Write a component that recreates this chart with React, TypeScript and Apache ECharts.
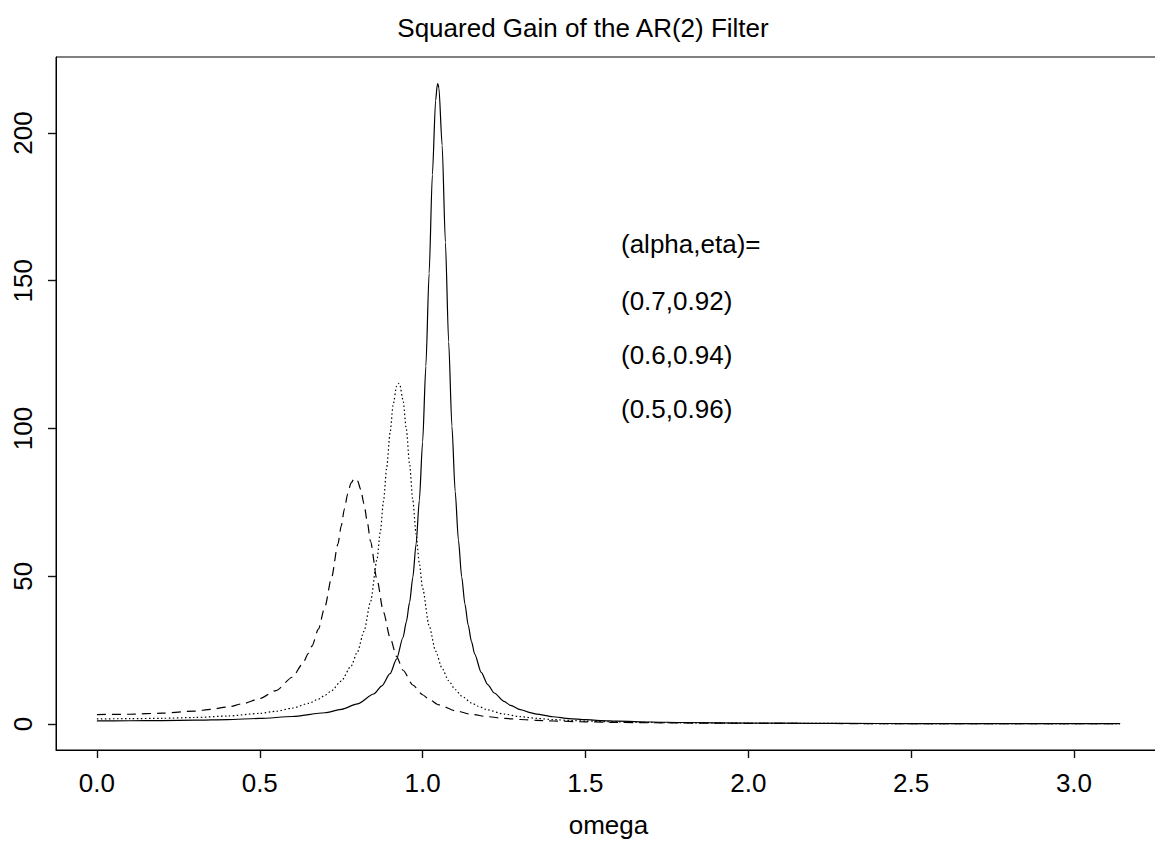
import React, { useEffect, useRef } from "react";
import * as echarts from "echarts";

const TITLE = "Squared Gain of the AR(2) Filter";
const X_NAME = "omega";
const X_TICKS = [0, 0.5, 1, 1.5, 2, 2.5, 3];
const Y_TICKS = [0, 50, 100, 150, 200];
const NOTE_LINES = ["(alpha,eta)=", "(0.7,0.92)", "(0.6,0.94)", "(0.5,0.96)"];

// solid curve
const omegaSolid = [0, 0.1, 0.2, 0.3, 0.4, 0.5, 0.6, 0.7, 0.75, 0.8, 0.85, 0.875, 0.9, 0.92, 0.94, 0.95, 0.96, 0.97, 0.98, 0.99, 1.0, 1.01, 1.02, 1.03, 1.04, 1.045, 1.0467, 1.05, 1.06, 1.07, 1.08, 1.09, 1.1, 1.11, 1.12, 1.13, 1.14, 1.15, 1.16, 1.18, 1.2, 1.22, 1.25, 1.27, 1.3, 1.33, 1.35, 1.4, 1.45, 1.5, 1.55, 1.6, 1.7, 1.8, 2.0, 2.2, 2.4, 2.6, 2.8, 3.0, 3.1416];
const gainSolid = [1.08, 1.10, 1.17, 1.30, 1.52, 1.89, 2.54, 3.81, 4.96, 6.82, 10.16, 12.91, 17.02, 21.94, 29.36, 34.53, 41.13, 49.67, 60.88, 75.73, 95.43, 121.07, 152.52, 185.89, 211.01, 216.30, 216.68, 215.29, 195.84, 163.05, 129.29, 100.81, 78.76, 62.21, 49.84, 40.54, 33.44, 27.96, 23.65, 17.47, 13.36, 10.50, 7.64, 6.32, 4.89, 3.88, 3.37, 2.46, 1.86, 1.46, 1.17, 0.96, 0.68, 0.51, 0.32, 0.23, 0.18, 0.15, 0.13, 0.12, 0.12];

// dotted curve
const omegaDotted = [0, 0.1, 0.2, 0.3, 0.4, 0.5, 0.55, 0.6, 0.65, 0.68, 0.7, 0.72, 0.75, 0.78, 0.8, 0.82, 0.84, 0.86, 0.87, 0.88, 0.89, 0.9, 0.91, 0.92, 0.9258, 0.93, 0.94, 0.95, 0.96, 0.97, 0.98, 0.99, 1.0, 1.02, 1.04, 1.06, 1.08, 1.1, 1.12, 1.15, 1.17, 1.2, 1.25, 1.3, 1.35, 1.4, 1.45, 1.5, 1.6, 1.7, 1.8, 2.0, 2.2, 2.4, 2.6, 2.8, 3.0, 3.1416];
const gainDotted = [1.75, 1.80, 1.94, 2.21, 2.70, 3.59, 4.31, 5.37, 6.99, 8.43, 9.67, 11.25, 14.52, 19.51, 24.43, 31.35, 41.30, 55.66, 64.88, 75.46, 87.00, 98.51, 108.31, 114.30, 115.31, 114.80, 109.55, 99.88, 87.94, 75.67, 64.29, 54.35, 45.96, 33.27, 24.68, 18.79, 14.65, 11.68, 9.48, 7.15, 6.02, 4.76, 3.36, 2.49, 1.91, 1.50, 1.21, 1.00, 0.71, 0.53, 0.41, 0.27, 0.20, 0.16, 0.13, 0.12, 0.11, 0.11];

// dashed curve
const omegaDashed = [0, 0.1, 0.2, 0.3, 0.35, 0.4, 0.45, 0.5, 0.55, 0.6, 0.63, 0.65, 0.66, 0.68, 0.7, 0.72, 0.74, 0.75, 0.76, 0.77, 0.78, 0.79, 0.792, 0.8, 0.81, 0.82, 0.83, 0.84, 0.86, 0.88, 0.9, 0.92, 0.94, 0.97, 1.0, 1.02, 1.05, 1.1, 1.15, 1.2, 1.25, 1.3, 1.35, 1.4, 1.5, 1.6, 1.7, 1.8, 2.0, 2.2, 2.4, 2.6, 2.8, 3.0, 3.1416];
const gainDashed = [3.21, 3.31, 3.66, 4.38, 4.95, 5.75, 6.91, 8.63, 11.33, 15.83, 20.09, 23.97, 26.33, 32.11, 39.66, 49.30, 60.88, 66.99, 72.84, 77.88, 81.48, 83.08, 83.13, 82.36, 79.39, 74.55, 68.49, 61.84, 48.80, 37.79, 29.29, 22.92, 18.19, 13.21, 9.90, 8.29, 6.49, 4.51, 3.28, 2.48, 1.93, 1.53, 1.25, 1.03, 0.73, 0.55, 0.43, 0.34, 0.24, 0.18, 0.14, 0.12, 0.11, 0.10, 0.10];

const FONT = '"Liberation Sans", Arial, Helvetica, sans-serif';

function pairs(xs: number[], ys: number[]) {
  return xs.map((x, i) => [x, ys[i]]);
}

export default function App() {
  const ref = useRef<HTMLDivElement>(null);

  useEffect(() => {
    if (!ref.current) return;
    const chart = echarts.init(ref.current, undefined, { renderer: "svg" });
    const noteY = [244, 301, 355, 409];
    const lineBase = {
      type: "line",
      showSymbol: false,
      symbol: "none",
      smooth: 0.25,
      smoothMonotone: "x",
    };
    chart.setOption({
      animation: false,
      title: {
        text: TITLE,
        left: 578,
        top: 10,
        textAlign: "center",
        textStyle: { fontFamily: FONT, fontSize: 26, fontWeight: "normal", color: "#000" },
      },
      grid: {
        left: 56,
        top: 57,
        width: 1105,
        height: 693,
        show: true,
        borderColor: "#000",
        borderWidth: 1,
      },
      xAxis: {
        type: "value",
        min: -0.12566,
        max: 3.26726,
        name: X_NAME,
        nameLocation: "middle",
        nameGap: 62,
        nameTextStyle: { fontFamily: FONT, fontSize: 26, color: "#000" },
        axisLine: { show: true, onZero: false, lineStyle: { color: "#000", width: 1 } },
        splitLine: { show: false },
        axisTick: {
          show: true,
          length: 8,
          customValues: X_TICKS,
          lineStyle: { color: "#111", width: 1.4 },
        },
        axisLabel: {
          customValues: X_TICKS,
          margin: 20,
          fontFamily: FONT,
          fontSize: 26,
          color: "#000",
          formatter: (v: number) => v.toFixed(1),
        },
      },
      yAxis: {
        type: "value",
        min: -8.79,
        max: 225.7,
        axisLine: { show: true, onZero: false, lineStyle: { color: "#000", width: 1 } },
        splitLine: { show: false },
        axisTick: {
          show: true,
          length: 8,
          customValues: Y_TICKS,
          lineStyle: { color: "#111", width: 1.4 },
        },
        axisLabel: {
          customValues: Y_TICKS,
          rotate: 90,
          margin: 20,
          fontFamily: FONT,
          fontSize: 26,
          color: "#000",
          formatter: (v: number) => String(Math.round(v)),
        },
      },
      graphic: NOTE_LINES.map((t, i) => ({
        type: "text",
        x: 621,
        y: noteY[i],
        style: {
          text: t,
          fill: "#000",
          font: `26px ${FONT}`,
          align: "left",
          verticalAlign: "middle",
        },
      })),
      series: [
        {
          ...lineBase,
          name: "(0.5,0.96)",
          data: pairs(omegaSolid, gainSolid),
          lineStyle: { color: "#000", width: 1.2, type: "solid" },
        },
        {
          ...lineBase,
          name: "(0.6,0.94)",
          data: pairs(omegaDotted, gainDotted),
          lineStyle: { color: "#000", width: 1.2, type: [1.5, 2.5] },
        },
        {
          ...lineBase,
          name: "(0.7,0.92)",
          data: pairs(omegaDashed, gainDashed),
          lineStyle: { color: "#000", width: 1.2, type: [9, 6] },
        },
      ],
    });
    return () => chart.dispose();
  }, []);

  return (
    <div
      style={{
        position: "absolute",
        left: 0,
        top: 0,
        width: 1155,
        height: 844,
        overflow: "hidden",
        background: "#fff",
      }}
    >
      <div ref={ref} style={{ width: 1162, height: 844 }} />
    </div>
  );
}
